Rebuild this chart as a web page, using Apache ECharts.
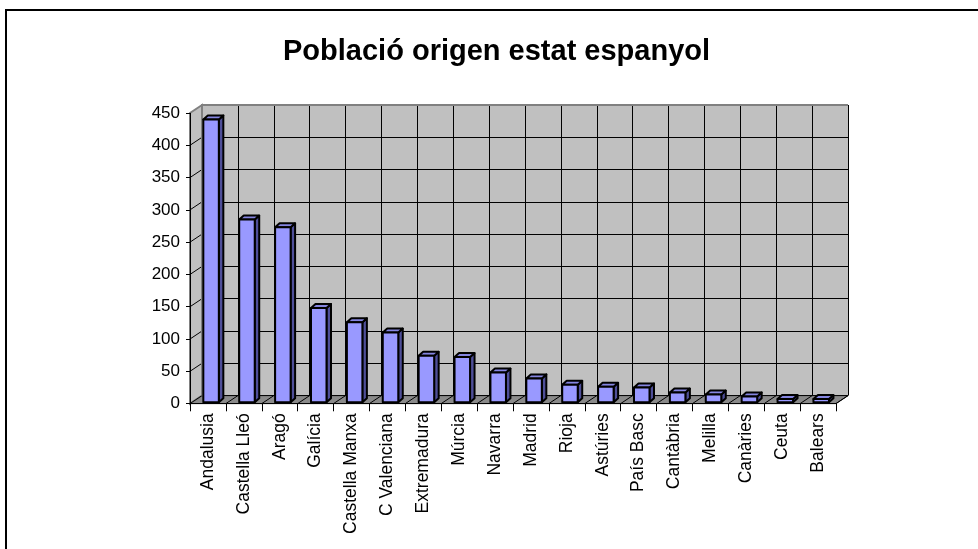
<!DOCTYPE html>
<html>
<head>
<meta charset="utf-8">
<title>Població origen estat espanyol</title>
<script src="https://cdn.jsdelivr.net/npm/echarts@6/dist/echarts.min.js"></script>
<style>
    * { margin: 0; padding: 0; }
    body { background: #fff; }
    #chart { width: 978px; height: 549px; }
</style>
</head>
<body>
<div id="chart"></div>
<script>
    // dades
    var categories = ['Andalusia', 'Castella Lleó', 'Aragó', 'Galícia', 'Castella Manxa', 'C Valenciana',
        'Extremadura', 'Múrcia', 'Navarra', 'Madrid', 'Rioja', 'Astúries', 'País Basc', 'Cantàbria',
        'Melilla', 'Canàries', 'Ceuta', 'Balears'];
    var values = [438, 283, 271, 146, 124, 108, 72, 70, 46, 37, 27, 24, 23, 15, 12, 9, 5, 5];
    var yMin = 0, yMax = 450, yStep = 50;
    var titleText = 'Població origen estat espanyol';

    // desplaçament de la perspectiva (paret del fons -> pla frontal)
    var DX = -12, DY = 8;
    var FONT = 'Liberation Sans, Arial, sans-serif';

    // parets i terra
    function renderWalls(params, api) {
        var n = categories.length;
        var band = api.size([1, 0])[0];
        var x0 = api.coord([0, yMin])[0] - band / 2;
        var x1 = api.coord([n - 1, yMin])[0] + band / 2;
        var yb = api.coord([0, yMin])[1];
        var yt = api.coord([0, yMax])[1];
        var kids = [];
        kids.push({
            type: 'polygon',
            shape: { points: [[x0, yb], [x1, yb], [x1 + DX, yb + DY], [x0 + DX, yb + DY]] },
            style: { fill: '#8a8a8a', stroke: '#000', lineWidth: 1 }
        });
        kids.push({
            type: 'polygon',
            shape: { points: [[x0, yt], [x0, yb], [x0 + DX, yb + DY], [x0 + DX, yt + DY]] },
            style: { fill: '#c0c0c0', stroke: '#808080', lineWidth: 2 }
        });
        for (var i = 0; i <= n; i++) {
            var bx = x0 + i * band;
            kids.push({
                type: 'line',
                shape: { x1: bx, y1: yb, x2: bx + DX, y2: yb + DY },
                style: { stroke: '#000', lineWidth: 1 }
            });
        }
        for (var v = yMin + yStep; v < yMax; v += yStep) {
            var y = api.coord([0, v])[1];
            kids.push({
                type: 'line',
                shape: { x1: x0, y1: y, x2: x0 + DX, y2: y + DY },
                style: { stroke: '#000', lineWidth: 1 }
            });
        }
        kids.push({
            type: 'polyline',
            shape: { points: [[x0, yb], [x0, yt], [x1, yt]] },
            style: { stroke: '#808080', lineWidth: 2, fill: null }
        });
        return { type: 'group', children: kids };
    }

    // columnes 3D
    function renderBar(params, api) {
        var c = api.coord([api.value(0), api.value(1)]);
        var base = api.coord([api.value(0), yMin]);
        var band = api.size([1, 0])[0];
        var left = c[0] - band * 0.463;
        var right = left + band * 0.432;
        var top = c[1] + 6.7;
        var bot = base[1] + 6.7;
        var dx = 4.5, dy = -4;
        var st = { stroke: '#000', lineWidth: 2, lineJoin: 'round' };
        return {
            type: 'group',
            children: [
                { type: 'polygon', shape: { points: [[right, top], [right + dx, top + dy], [right + dx, bot + dy], [right, bot]] },
                  style: Object.assign({ fill: '#4f4f99' }, st) },
                { type: 'polygon', shape: { points: [[left, top], [right, top], [right + dx, top + dy], [left + dx, top + dy]] },
                  style: Object.assign({ fill: '#8585e0' }, st) },
                { type: 'rect', shape: { x: left, y: top, width: right - left, height: bot - top },
                  style: Object.assign({ fill: '#9999ff' }, st) }
            ]
        };
    }

    var option = {
        backgroundColor: '#fff',
        animation: false,
        title: {
            text: titleText,
            left: 278,
            top: 32,
            textStyle: { fontFamily: FONT, fontSize: 29, fontWeight: 'bold', color: '#000' }
        },
        graphic: [{
            type: 'rect',
            shape: { x: 6, y: 10, width: 990, height: 580 },
            style: { fill: null, stroke: '#000', lineWidth: 2 },
            silent: true
        }],
        grid: [
            { left: 202, top: 105, width: 646, height: 290.6, show: true, backgroundColor: '#c0c0c0', borderWidth: 0 },
            { left: 190, top: 113.3, width: 646, height: 290, show: false }
        ],
        xAxis: [
            {
                type: 'category', gridIndex: 0, data: categories,
                axisLine: { show: false }, axisTick: { show: false }, axisLabel: { show: false },
                splitLine: { show: true, interval: 0, lineStyle: { color: '#000', width: 1 } }
            },
            {
                type: 'category', gridIndex: 1, data: categories, z: 10,
                axisLine: { show: true, lineStyle: { color: '#000', width: 1 } },
                axisTick: { show: true, interval: 0, length: 8, lineStyle: { color: '#000' } },
                axisLabel: { interval: 0, rotate: 90, margin: 10, color: '#000', fontSize: 17.5, fontFamily: FONT },
                splitLine: { show: false }
            }
        ],
        yAxis: [
            {
                type: 'value', gridIndex: 0, min: yMin, max: yMax, interval: yStep,
                axisLine: { show: false }, axisTick: { show: false }, axisLabel: { show: false },
                splitLine: { show: true, lineStyle: { color: '#000', width: 1 } }
            },
            {
                type: 'value', gridIndex: 1, min: yMin, max: yMax, interval: yStep, z: 10,
                axisLine: { show: true, lineStyle: { color: '#000', width: 1 } },
                axisTick: { show: true, length: 4, lineStyle: { color: '#000' } },
                axisLabel: { margin: 10, color: '#000', fontSize: 17, fontFamily: FONT },
                splitLine: { show: false }
            }
        ],
        series: [
            {
                type: 'custom', name: 'parets', xAxisIndex: 0, yAxisIndex: 0, z: 1,
                renderItem: renderWalls, data: [[0, 0]], silent: true
            },
            {
                type: 'custom', name: 'Població', xAxisIndex: 0, yAxisIndex: 0, z: 3,
                renderItem: renderBar,
                encode: { x: 0, y: 1 },
                data: values.map(function (v, i) { return [i, v]; })
            }
        ]
    };

    var myChart = echarts.init(document.getElementById('chart'));
    myChart.setOption(option);
</script>
</body>
</html>
